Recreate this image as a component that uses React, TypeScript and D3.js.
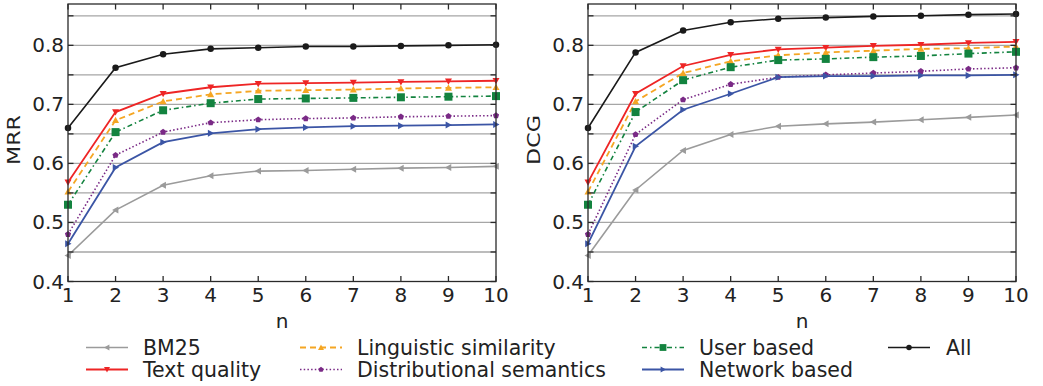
import React from "react";
import * as d3 from "d3";

const nValues = [1, 2, 3, 4, 5, 6, 7, 8, 9, 10];
const yTicks = [0.4, 0.5, 0.6, 0.7, 0.8];
const gridTicks = [0.45, 0.5, 0.55, 0.6, 0.65, 0.7, 0.75, 0.8, 0.85];

const seriesNames = [
  "BM25",
  "Text quality",
  "Linguistic similarity",
  "Distributional semantics",
  "User based",
  "Network based",
  "All",
];

// MRR values
const mrrBM25 = [0.444, 0.521, 0.563, 0.579, 0.587, 0.588, 0.590, 0.592, 0.593, 0.595];
const mrrText = [0.568, 0.687, 0.718, 0.729, 0.735, 0.736, 0.737, 0.738, 0.739, 0.740];
const mrrLing = [0.552, 0.673, 0.705, 0.717, 0.723, 0.724, 0.725, 0.727, 0.728, 0.729];
const mrrDist = [0.480, 0.614, 0.653, 0.669, 0.674, 0.676, 0.677, 0.679, 0.680, 0.681];
const mrrUser = [0.530, 0.653, 0.690, 0.702, 0.709, 0.710, 0.711, 0.712, 0.713, 0.714];
const mrrNet = [0.464, 0.593, 0.636, 0.651, 0.658, 0.661, 0.663, 0.664, 0.665, 0.666];
const mrrAll = [0.660, 0.762, 0.785, 0.794, 0.796, 0.798, 0.798, 0.799, 0.800, 0.801];

// DCG values
const dcgBM25 = [0.444, 0.555, 0.622, 0.649, 0.663, 0.667, 0.670, 0.674, 0.678, 0.682];
const dcgText = [0.568, 0.718, 0.765, 0.784, 0.793, 0.796, 0.799, 0.801, 0.804, 0.806];
const dcgLing = [0.552, 0.705, 0.753, 0.773, 0.783, 0.788, 0.791, 0.794, 0.795, 0.798];
const dcgDist = [0.480, 0.649, 0.708, 0.734, 0.746, 0.750, 0.753, 0.756, 0.760, 0.762];
const dcgUser = [0.530, 0.687, 0.741, 0.763, 0.775, 0.777, 0.780, 0.782, 0.786, 0.789];
const dcgNet = [0.464, 0.629, 0.691, 0.718, 0.746, 0.748, 0.748, 0.749, 0.749, 0.750];
const dcgAll = [0.660, 0.788, 0.825, 0.839, 0.845, 0.847, 0.849, 0.850, 0.852, 0.853];

const mrrSeries = [mrrBM25, mrrText, mrrLing, mrrDist, mrrUser, mrrNet, mrrAll];
const dcgSeries = [dcgBM25, dcgText, dcgLing, dcgDist, dcgUser, dcgNet, dcgAll];

type Style = { color: string; dash: string; marker: string; size: number; width: number };
const styles: Style[] = [
  { color: "#9b9b9b", dash: "", marker: "left", size: 7, width: 1.6 },
  { color: "#ee2525", dash: "", marker: "down", size: 7, width: 1.8 },
  { color: "#f5a623", dash: "6,4", marker: "up", size: 7, width: 1.8 },
  { color: "#7a2a86", dash: "1.5,2.2", marker: "pent", size: 6.5, width: 1.6 },
  { color: "#13833f", dash: "5,3,1.5,3", marker: "square", size: 8, width: 1.6 },
  { color: "#3b55a5", dash: "", marker: "right", size: 7, width: 1.8 },
  { color: "#1a1a1a", dash: "", marker: "circle", size: 6.5, width: 1.6 },
];

const FONT = "'DejaVu Sans', sans-serif";
const TEXT = "#222";

function Marker({ x, y, st }: { x: number; y: number; st: Style }) {
  const s = st.size;
  const h = s / 2;
  if (st.marker === "circle") return <circle cx={x} cy={y} r={h} fill={st.color} />;
  if (st.marker === "square")
    return <rect x={x - h} y={y - h} width={s} height={s} fill={st.color} />;
  let pts: [number, number][] = [];
  if (st.marker === "up") pts = [[0, -h], [h, h * 0.8], [-h, h * 0.8]];
  if (st.marker === "down") pts = [[0, h], [h, -h * 0.8], [-h, -h * 0.8]];
  if (st.marker === "left") pts = [[-h, 0], [h * 0.8, -h], [h * 0.8, h]];
  if (st.marker === "right") pts = [[h, 0], [-h * 0.8, -h], [-h * 0.8, h]];
  if (st.marker === "pent")
    pts = d3.range(5).map((i) => {
      const a = -Math.PI / 2 + (i * 2 * Math.PI) / 5;
      return [h * Math.cos(a), h * Math.sin(a)] as [number, number];
    });
  return (
    <polygon
      points={pts.map((p) => `${x + p[0]},${y + p[1]}`).join(" ")}
      fill={st.color}
    />
  );
}

function Panel({ x0, x1, data, label }: { x0: number; x1: number; data: number[][]; label: string }) {
  const y0 = 4;
  const y1 = 281.5;
  const xs = d3.scaleLinear().domain([1, 10]).range([x0, x1]);
  const ys = d3.scaleLinear().domain([0.4, 0.87]).range([y1, y0]);
  const line = d3
    .line<number>()
    .x((_, i) => xs(nValues[i]))
    .y((d) => ys(d));
  const tl = 5.5;
  return (
    <g>
      {gridTicks.map((t) => (
        <line key={"g" + t} x1={x0} x2={x1} y1={ys(t)} y2={ys(t)} stroke="#a6a6a6" strokeWidth={1.3} />
      ))}
      {data.map((vals, si) => (
        <path
          key={"l" + si}
          d={line(vals) || ""}
          fill="none"
          stroke={styles[si].color}
          strokeWidth={styles[si].width}
          strokeDasharray={styles[si].dash}
        />
      ))}
      {data.map((vals, si) =>
        vals.map((v, i) => <Marker key={`m${si}-${i}`} x={xs(nValues[i])} y={ys(v)} st={styles[si]} />)
      )}
      <rect x={x0} y={y0} width={x1 - x0} height={y1 - y0} fill="none" stroke="#2a2a2a" strokeWidth={1.3} />
      {gridTicks.concat([0.4]).map((t) => (
        <g key={"yt" + t}>
          <line x1={x0} x2={x0 + tl} y1={ys(t)} y2={ys(t)} stroke="#2a2a2a" strokeWidth={1.3} />
          <line x1={x1} x2={x1 - tl} y1={ys(t)} y2={ys(t)} stroke="#2a2a2a" strokeWidth={1.3} />
        </g>
      ))}
      {nValues.map((n) => (
        <g key={"xt" + n}>
          <line x1={xs(n)} x2={xs(n)} y1={y1} y2={y1 - tl} stroke="#2a2a2a" strokeWidth={1.3} />
          <line x1={xs(n)} x2={xs(n)} y1={y0} y2={y0 + tl} stroke="#2a2a2a" strokeWidth={1.3} />
          <text x={xs(n)} y={302} textAnchor="middle" fontSize={20} fontFamily={FONT} fill={TEXT}>
            {n}
          </text>
        </g>
      ))}
      {yTicks.map((t) => (
        <text key={"yl" + t} x={x0 - 4} y={ys(t) + 7} textAnchor="end" fontSize={20} fontFamily={FONT} fill={TEXT}>
          {t.toFixed(1)}
        </text>
      ))}
      <text
        transform={`translate(${x0 - 48},140) rotate(-90)`}
        textAnchor="middle"
        fontSize={18}
        fontFamily={FONT}
        fill={TEXT}
        textLength={50}
        lengthAdjust="spacingAndGlyphs"
      >
        {label}
      </text>
      <text x={(x0 + x1) / 2} y={328} textAnchor="middle" fontSize={20} fontFamily={FONT} fill={TEXT}>
        n
      </text>
    </g>
  );
}

const legendCols = [
  { hx: 86, tx: 143 },
  { hx: 300, tx: 357 },
  { hx: 642, tx: 699 },
  { hx: 888, tx: 946 },
];
const legendRows = [347.5, 369.5];

export default function App() {
  return (
    <svg
      width={1043}
      height={386}
      style={{ position: "absolute", left: 0, top: 0, background: "#fff" }}
    >
      <rect width={1043} height={386} fill="#fff" />
      <Panel x0={68} x1={496} data={mrrSeries} label="MRR" />
      <Panel x0={588} x1={1016} data={dcgSeries} label="DCG" />
      {seriesNames.map((name, i) => {
        const col = legendCols[Math.floor(i / 2)];
        const y = legendRows[i % 2];
        const st = styles[i];
        return (
          <g key={"lg" + i}>
            <line
              x1={col.hx}
              x2={col.hx + 42}
              y1={y}
              y2={y}
              stroke={st.color}
              strokeWidth={st.width}
              strokeDasharray={st.dash}
            />
            <Marker x={col.hx + 21} y={y} st={{ ...st, size: st.size * 0.85 }} />
            <text x={col.tx} y={y + 7.5} fontSize={20.5} fontFamily={FONT} fill={TEXT}>
              {name}
            </text>
          </g>
        );
      })}
    </svg>
  );
}
